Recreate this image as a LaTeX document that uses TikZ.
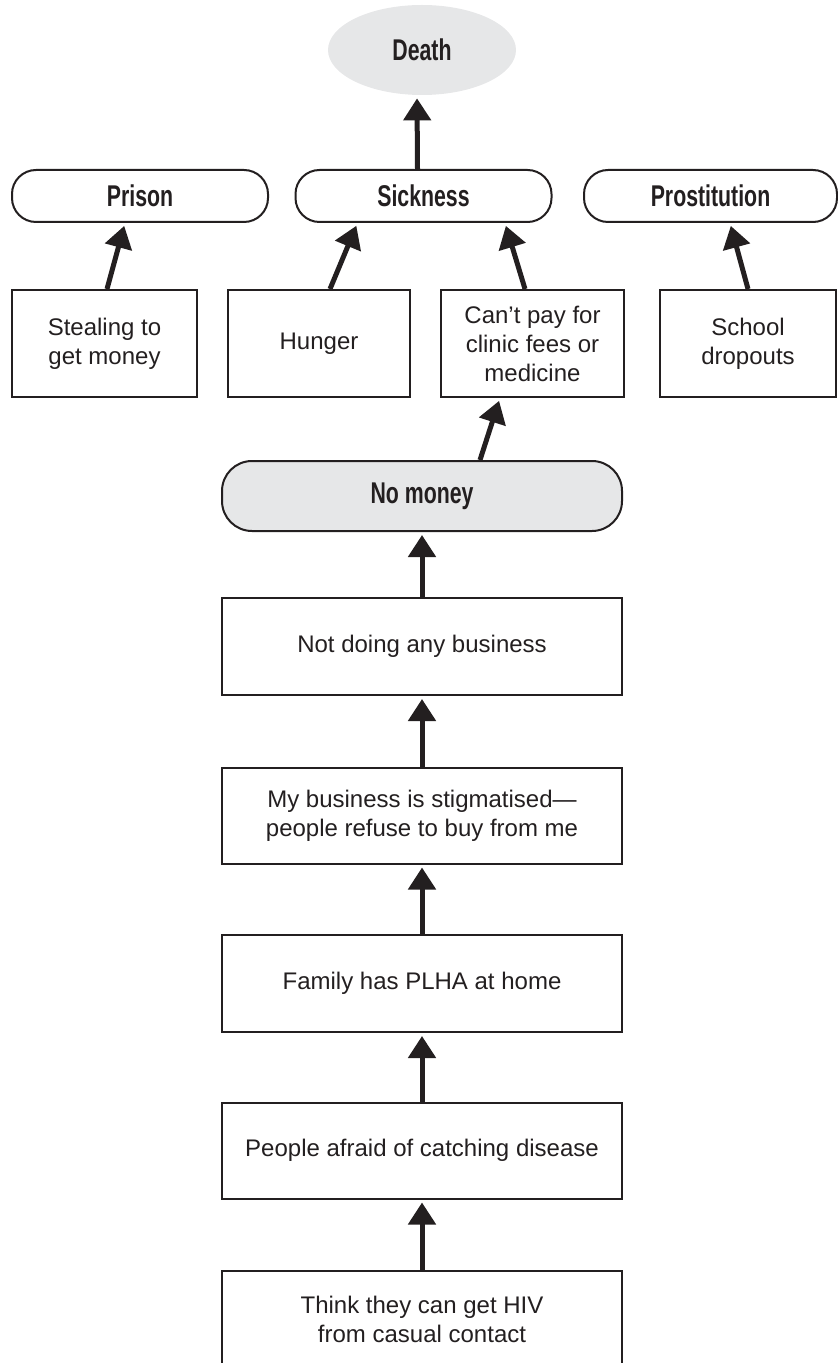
\documentclass[tikz,border=0pt]{standalone}
\usepackage{fontspec}
\setmainfont{Liberation Sans}
\newfontfamily\headfont{Liberation Sans}[FakeStretch=0.71]
\usetikzlibrary{arrows.meta,shapes.geometric}
\definecolor{inkgrey}{HTML}{231F20}
\definecolor{fillgrey}{HTML}{E6E7E8}

\begin{document}
\begin{tikzpicture}[x=0.5pt, y=-0.5pt,
  every node/.style={text=inkgrey},
  box/.style={draw=inkgrey, line width=1pt, inner sep=0pt, align=center,
    font=\fontsize{12}{14.5}\selectfont},
  outcome/.style={draw=inkgrey, line width=1pt, rounded corners=12pt, inner sep=0pt,
    minimum width=128pt, minimum height=26pt, font=\headfont\bfseries\fontsize{15}{17}\selectfont},
  arr/.style={draw=inkgrey, line width=2.5pt, -{Triangle[length=11pt,width=13.5pt]}, shorten >=1.5pt}]
\useasboundingbox (0,0) rectangle (838,1363);

% top
\node [ellipse, fill=fillgrey, inner sep=0pt, minimum width=94pt, minimum height=45pt,
  font=\headfont\bfseries\fontsize{15}{17}\selectfont] (death) at (422,50) {Death};
\node [outcome] (prison) at (140,196) {Prison};
\node [outcome] (sick) at (423.5,196) {Sickness};
\node [outcome, minimum width=126.5pt] (prost) at (710.5,196) {Prostitution};

% causes
\node [box, minimum width=92.5pt, minimum height=53.5pt] (steal) at (104.5,343.5) {Stealing to\\get money};
\node [box, minimum width=91pt, minimum height=53.5pt] (hunger) at (319,343.5) {Hunger};
\node [box, minimum width=91.5pt, minimum height=53.5pt] (cant) at (532.5,343.5) {Can't pay for\\clinic fees or\\medicine};
\node [box, minimum width=88pt, minimum height=53.5pt] (school) at (748,343.5) {School\\dropouts};

\node [outcome, fill=fillgrey, rounded corners=15pt, minimum width=200pt, minimum height=35pt] (nomoney) at (422,496) {No money};

% chain
\node [box, minimum width=200pt, minimum height=48.5pt] (notbiz) at (422,646.5) {Not doing any business};
\node [box, minimum width=200pt, minimum height=48pt] (mybiz) at (422,815.5) {My business is stigmatised---\\people refuse to buy from me};
\node [box, minimum width=200pt, minimum height=48.5pt] (family) at (422,983.5) {Family has PLHA at home};
\node [box, minimum width=200pt, minimum height=48pt] (afraid) at (422,1150.5) {People afraid of catching disease};
\node [box, minimum width=200pt, minimum height=48.5pt] (think) at (422,1319.5) {Think they can get HIV\\from casual contact};

% arrows
\draw [arr] ([xshift=-3pt]sick.north) -- ([xshift=-2.5pt]death.south);
\draw [arr] ([xshift=1.25pt]steal.north) -- ([xshift=-7.5pt]prison.south);
\draw [arr] ([xshift=5.5pt]hunger.north) -- ([xshift=-33pt]sick.south);
\draw [arr] ([xshift=-3.75pt]cant.north) -- ([xshift=40.75pt]sick.south);
\draw [arr] (school.north) -- ([xshift=9.75pt]prost.south);
\draw [arr] ([xshift=29pt]nomoney.north) -- ([xshift=-16.25pt]cant.south);
\draw [arr] (notbiz.north) -- (nomoney.south);
\draw [arr] (mybiz.north) -- (notbiz.south);
\draw [arr] (family.north) -- (mybiz.south);
\draw [arr] (afraid.north) -- (family.south);
\draw [arr] (think.north) -- (afraid.south);
\end{tikzpicture}
\end{document}
